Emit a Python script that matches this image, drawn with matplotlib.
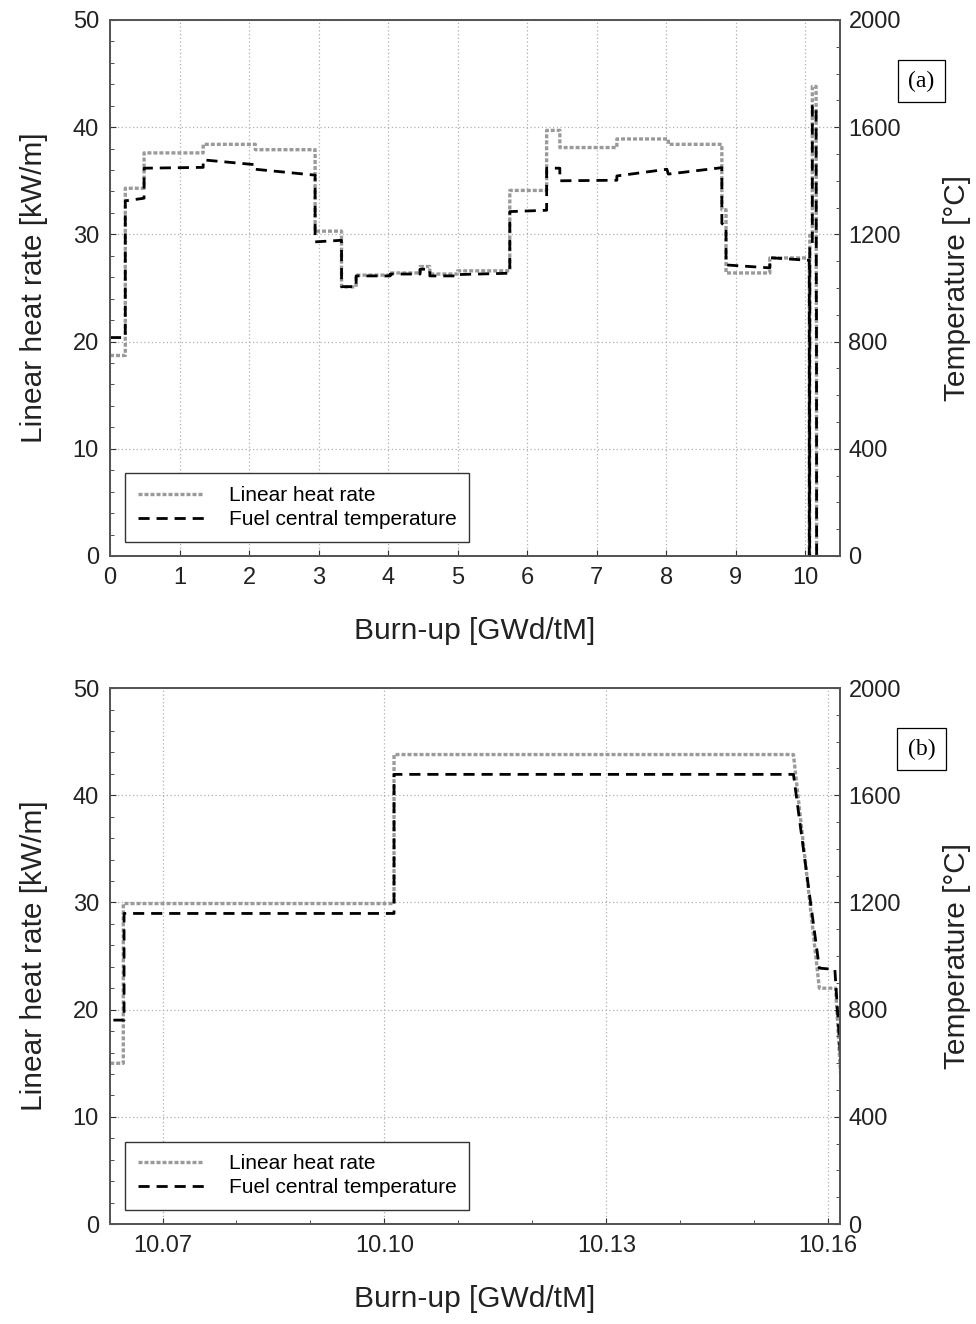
import numpy as np
import matplotlib
matplotlib.use("Agg")
import matplotlib.pyplot as plt
from matplotlib.ticker import MultipleLocator
from matplotlib.lines import Line2D

plt.rcParams['font.family'] = ['Liberation Sans', 'DejaVu Sans']

# linear heat rate history (kW/m) vs burn-up (GWd/tM), repeated x = jump
lhr_bu = [0, 0.22, 0.22, 0.49, 0.49, 1.34, 1.34, 2.09, 2.09, 2.95, 2.95, 3.33, 3.33, 3.54,
          3.54, 4.03, 4.03, 4.46, 4.46, 4.60, 4.60, 5.00, 5.00, 5.75, 5.75, 6.28, 6.28, 6.47,
          6.47, 7.29, 7.29, 8.03, 8.03, 8.80, 8.80, 8.86, 8.86, 9.49, 9.49, 10.058, 10.058,
          10.0625, 10.0625, 10.0647, 10.0647, 10.1013, 10.1013, 10.1553, 10.1588, 10.1610,
          10.1618, 10.163, 10.2]
lhr_val = [18.7, 18.7, 34.3, 34.3, 37.6, 37.6, 38.4, 38.4, 37.9, 37.9, 30.3, 30.3, 25.1, 25.1,
           26.2, 26.2, 26.4, 26.4, 27.0, 27.0, 26.3, 26.3, 26.6, 26.6, 34.1, 34.1, 39.7, 39.7,
           38.1, 38.1, 38.9, 38.9, 38.4, 38.4, 32.3, 32.3, 26.4, 26.4, 27.8, 27.8, 0,
           0, 15.0, 15.0, 29.9, 29.9, 43.8, 43.8, 22.0, 22.0,
           12.5, 0, 0]

# fuel central temperature (deg C)
tc_bu = [0, 0.22, 0.22, 0.49, 0.49, 1.34, 1.34, 2.09, 2.09, 2.95, 2.95, 3.33, 3.33, 3.54,
         3.54, 4.03, 4.03, 4.46, 4.46, 4.60, 4.60, 5.00, 5.00, 5.75, 5.75, 6.28, 6.28, 6.47,
         6.47, 7.29, 7.29, 8.01, 8.03, 8.80, 8.80, 8.86, 8.86, 9.49, 9.49, 10.058, 10.058,
         10.0625, 10.0625, 10.0648, 10.0648, 10.1013, 10.1013, 10.1553, 10.1588, 10.1609,
         10.1618, 10.163, 10.2]
tc_val = [815, 815, 1325, 1335, 1447, 1450, 1478, 1460, 1443, 1421, 1172, 1178, 1005, 1005,
          1045, 1045, 1052, 1052, 1070, 1070, 1045, 1045, 1050, 1055, 1285, 1290, 1447, 1447,
          1400, 1402, 1418, 1443, 1425, 1449, 1241, 1230, 1086, 1075, 1113, 1103, 0,
          0, 761, 761, 1159, 1159, 1678, 1678, 955, 950,
          560, 0, 0]

fig = plt.figure(figsize=(9.76, 13.24), dpi=100)

lhr_style = dict(color='#9a9a9a', lw=2.4, ls=(0, (1.2, 0.6)))
tc_style = dict(color='black', lw=2.0, ls=(0, (4, 2.5)))

panels = [
    dict(rect=[0.1127, 0.5801, 0.748, 0.4048], xlim=(0, 10.5), tag='(a)', tag_y=0.9388),
    dict(rect=[0.1127, 0.0755, 0.748, 0.4048], xlim=(10.0629, 10.1616), tag='(b)', tag_y=0.4343),
]

for i, p in enumerate(panels):
    ax = fig.add_axes(p['rect'])
    ax2 = ax.twinx()
    ax.plot(lhr_bu, lhr_val, **lhr_style)
    ax2.plot(tc_bu, tc_val, **tc_style)

    ax.set_xlim(*p['xlim'])
    ax.set_ylim(0, 50)
    ax2.set_ylim(0, 2000)
    ax.yaxis.set_major_locator(MultipleLocator(10))
    ax.yaxis.set_minor_locator(MultipleLocator(2))
    ax2.yaxis.set_major_locator(MultipleLocator(400))
    ax2.yaxis.set_minor_locator(MultipleLocator(100))
    if i == 0:
        ax.xaxis.set_major_locator(MultipleLocator(1))
    else:
        ax.set_xticks([10.07, 10.10, 10.13, 10.16])
        ax.set_xticklabels(['10.07', '10.10', '10.13', '10.16'])
        ax.set_xticks([10.08, 10.09, 10.11, 10.12, 10.14, 10.15], minor=True)

    ax.grid(True, which='major', color='#b0b0b0', ls=(0, (1, 2)), lw=0.9)
    for a in (ax, ax2):
        a.tick_params(which='both', direction='in', labelsize=17, colors='#333333',
                      labelcolor='#222222')
        a.tick_params(which='major', length=4)
        a.tick_params(which='minor', length=3)
        for s in a.spines.values():
            s.set_color('#555555')
            s.set_linewidth(1.3)
    ax.tick_params(axis='x', pad=8)
    ax.tick_params(axis='y', pad=8)
    ax2.tick_params(axis='y', pad=6)

    ax.set_xlabel('Burn-up [GWd/tM]', fontsize=21.5, labelpad=20, color='#222222')
    ax.set_ylabel('Linear heat rate [kW/m]', fontsize=21.5, labelpad=18, color='#222222')
    ax2.set_ylabel('Temperature [°C]', fontsize=21.5, labelpad=30, color='#222222')

    handles = [Line2D([], [], **lhr_style), Line2D([], [], **tc_style)]
    leg = ax2.legend(handles, ['Linear heat rate', 'Fuel central temperature'],
                     loc='lower left', bbox_to_anchor=(0.012, 0.015), fontsize=15,
                     fancybox=False, framealpha=1, edgecolor='#333333',
                     handlelength=3.2, borderpad=0.6, labelspacing=0.25, handletextpad=1.2,
                     borderaxespad=0.3)
    leg.get_frame().set_linewidth(1.0)

    fig.text(0.944, p['tag_y'], p['tag'], ha='center', va='center', fontsize=17,
             family=['Liberation Serif', 'DejaVu Serif'],
             bbox=dict(boxstyle='square,pad=0.45', fc='white', ec='black', lw=0.9))

fig.savefig('out.png', dpi=100)
